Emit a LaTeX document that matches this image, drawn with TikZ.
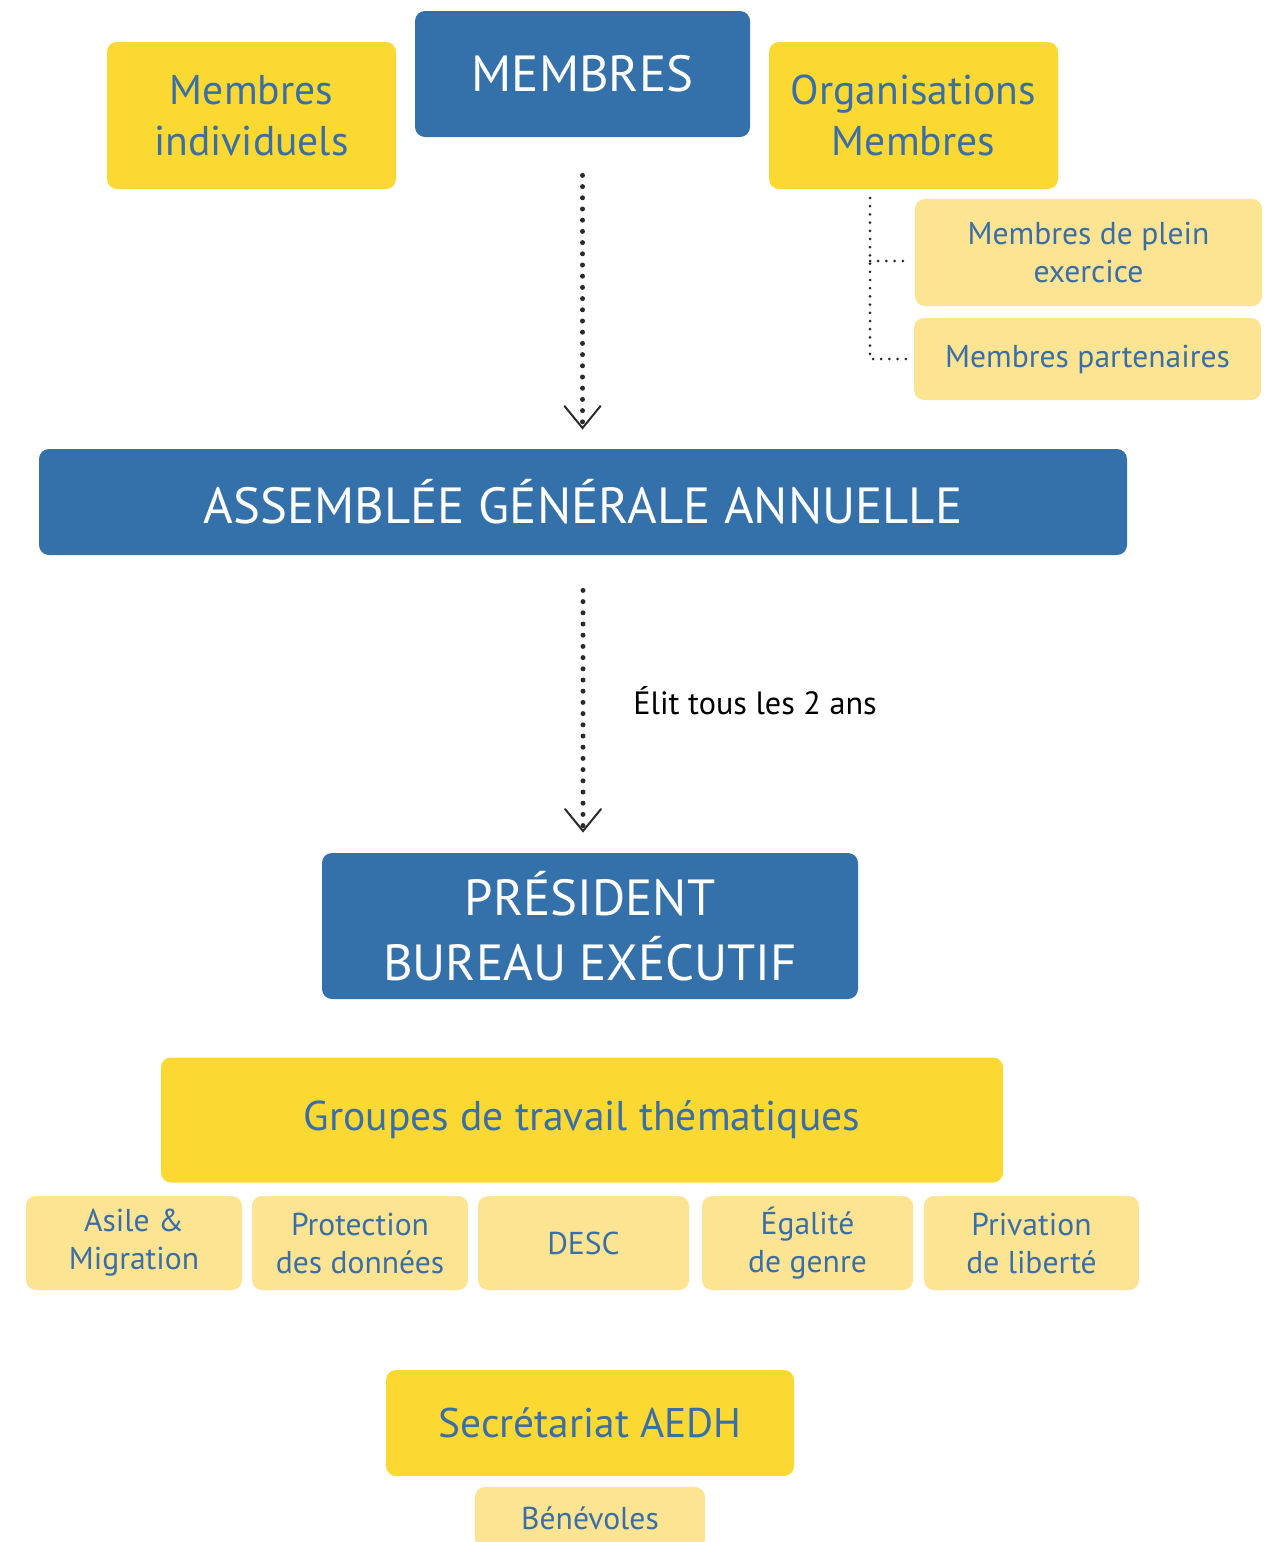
\documentclass[tikz,border=0pt]{standalone}
\usepackage{fontspec}
\setmainfont{PT Sans}
\usetikzlibrary{arrows.meta}
\definecolor{bblue}{HTML}{3470A9}
\definecolor{byel}{HTML}{FCD932}
\definecolor{lyel}{HTML}{FDE492}
\definecolor{tblue}{HTML}{3A6EA6}
\definecolor{dotc}{HTML}{2B2B2B}
\tikzset{
  box/.style={rounded corners=5pt, inner sep=0pt, align=center},
  bluebox/.style={box, fill=bblue, text=white},
  yelbox/.style={box, fill=byel, text=tblue},
  lyelbox/.style={box, fill=lyel, text=tblue},
  dotarrow/.style={draw=dotc, line width=2.5pt, line cap=round, dash pattern=on 0pt off 5.6pt,
    -{Straight Barb[length=11pt,width=18pt,line width=1pt,line cap=round]}},
  smalldot/.style={draw=dotc, line width=1.5pt, line cap=round, dash pattern=on 0pt off 4.1pt},
}
\begin{document}
\begin{tikzpicture}[x=0.5pt,y=-0.5pt]
\clip (0,0) rectangle (1273,1542);
\fill[white] (0,0) rectangle (1273,1542);
% top row
\node[yelbox, minimum width=144.5pt, minimum height=73.5pt,
  font=\fontsize{20.8}{25.5}\selectfont] (indiv) at (251.5,115.5) {Membres\\individuels};
\node[bluebox, minimum width=167.5pt, minimum height=63pt,
  font=\fontsize{25.4}{32}\selectfont] (membres) at (582.5,74) {MEMBRES};
\node[yelbox, minimum width=144.5pt, minimum height=73.5pt,
  font=\fontsize{20.8}{25.5}\selectfont] (org) at (913.5,115.5) {Organisations\\Membres};
\node[lyelbox, minimum width=173.5pt, minimum height=53.5pt,
  font=\fontsize{15.8}{19}\selectfont] (plein) at (1088.5,252.5) {Membres de plein\\exercice};
\node[lyelbox, minimum width=173.5pt, minimum height=41pt,
  font=\fontsize{15.8}{19}\selectfont] (part) at (1087.5,359) {Membres partenaires};
% org connectors
\coordinate (ctop) at (870,198);
\coordinate (cmid) at (870,261);
\coordinate (pleinend) at ([xshift=-3.5pt]plein.west);
\coordinate (partend) at ([xshift=-3pt]part.west);
\draw[smalldot] (ctop) |- (partend);
\draw[smalldot] (cmid) -- (cmid -| pleinend);
% AGA
\node[bluebox, minimum width=544pt, minimum height=53pt,
  font=\fontsize{25.4}{32}\selectfont] (aga) at (583,502) {ASSEMBLÉE GÉNÉRALE ANNUELLE};
\draw[dotarrow, shorten <=19pt, shorten >=9.5pt] (membres.south) -- (membres.south |- aga.north);
% President
\node[bluebox, minimum width=268pt, minimum height=73pt,
  font=\fontsize{25.4}{32.5}\selectfont] (pres) at (590,926) {PRÉSIDENT\\BUREAU EXÉCUTIF};
\draw[dotarrow, shorten <=17.5pt, shorten >=10pt] (aga.south) -- (aga.south |- pres.north);
\node[anchor=west, inner sep=0pt, font=\fontsize{16.1}{19}\selectfont, text=black] (elit) at (633,701) {Élit tous les 2 ans};
% Groupes
\node[yelbox, minimum width=421pt, minimum height=62.5pt,
  font=\fontsize{20.8}{24}\selectfont] (groupes) at (582,1120) {Groupes de travail thématiques};
\begin{scope}[every node/.style={lyelbox, minimum height=47pt, font=\fontsize{15.8}{19}\selectfont}]
\node[minimum width=108pt] (asile) at (134,1243) {Asile \&\\Migration};
\node[minimum width=108pt] (prot) at (360,1243) {Protection\\des données};
\node[minimum width=105.5pt] (desc) at (583.5,1243) {DESC};
\node[minimum width=105.5pt] (egal) at (807.5,1243) {Égalité\\de genre};
\node[minimum width=107.5pt] (priv) at (1031.5,1243) {Privation\\de liberté};
\end{scope}
% Secretariat
\node[yelbox, minimum width=204pt, minimum height=53pt,
  font=\fontsize{20.7}{24}\selectfont] (secr) at (590,1423) {Secrétariat AEDH};
\node[lyelbox, minimum width=115pt, minimum height=31pt,
  font=\fontsize{15.8}{19}\selectfont] (benev) at (590,1518) {Bénévoles};
\end{tikzpicture}
\end{document}
